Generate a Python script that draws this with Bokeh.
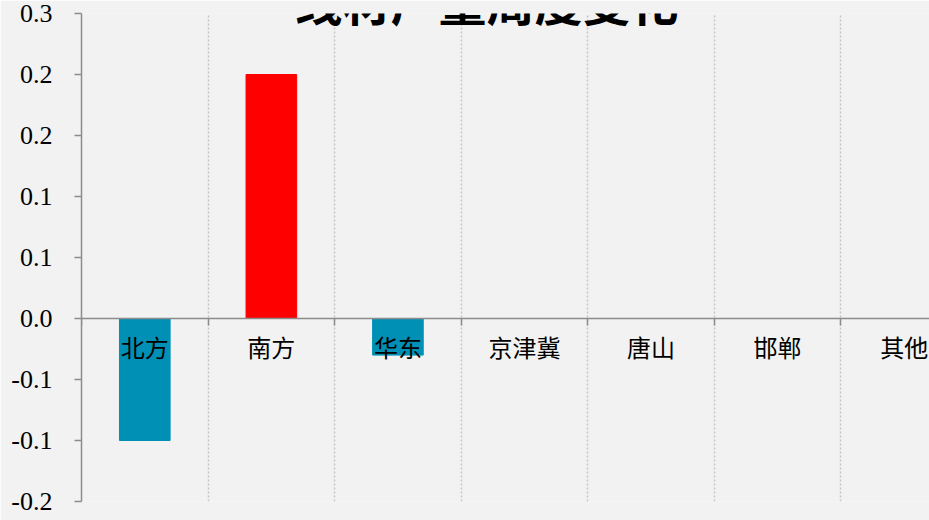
from bokeh.plotting import figure
from bokeh.models import Range1d, FixedTicker, LinearAxis, Label, PrintfTickFormatter, Grid
from bokeh.embed import file_html
from bokeh.resources import INLINE

title_text = "线材产量周度变化"
categories = ["北方", "南方", "华东", "京津冀", "唐山", "邯郸", "其他"]
values = [-0.12, 0.24, -0.036, 0.0, 0.0, 0.0, 0.0]
bar_colors = ["#0090B5", "#FF0000", "#0090B5", "#0090B5", "#0090B5", "#0090B5", "#0090B5"]
y_ticks = [-0.18, -0.12, -0.06, 0.0, 0.06, 0.12, 0.18, 0.24, 0.3]

x_centers = [i + 0.5 for i in range(len(categories))]
x_bounds = list(range(len(categories) + 1))

AXIS_COLOR = "#8c8c8c"
BG = "#f2f2f2"

p = figure(width=929, height=520, output_backend="svg", toolbar_location=None,
           x_range=Range1d(0, 6.70), y_range=Range1d(-0.18, 0.3),
           x_axis_location=None, y_axis_location="left",
           min_border_left=81, min_border_right=0, min_border_top=13, min_border_bottom=19)
p.background_fill_color = BG
p.border_fill_color = BG
p.outline_line_color = None
p.xgrid.visible = False
p.ygrid.visible = False

p.add_layout(Grid(dimension=0, ticker=FixedTicker(ticks=x_bounds[1:]),
                  grid_line_color="#c4c4c4", grid_line_dash="2 2", grid_line_width=1.5))

p.vbar(x=x_centers, top=values, bottom=0, width=0.4, color=bar_colors)

yax = p.yaxis[0]
yax.ticker = FixedTicker(ticks=y_ticks)
yax.formatter = PrintfTickFormatter(format="%.1f")
yax.axis_line_color = AXIS_COLOR
yax.axis_line_width = 1.5
yax.major_tick_line_color = AXIS_COLOR
yax.major_tick_line_width = 1.5
yax.major_tick_in = 0
yax.major_tick_out = 7
yax.minor_tick_line_color = None
yax.major_label_standoff = 22
yax.major_label_text_font = "Liberation Serif"
yax.major_label_text_font_size = "26px"
yax.major_label_text_color = "black"

ax_ticks = LinearAxis(ticker=FixedTicker(ticks=x_bounds), fixed_location=0,
                      axis_line_color=AXIS_COLOR, axis_line_width=1.5,
                      major_tick_line_color=AXIS_COLOR, major_tick_line_width=1.5,
                      major_tick_in=0, major_tick_out=7, minor_tick_line_color=None,
                      major_label_text_color=None)
p.add_layout(ax_ticks, "below")

ax_labels = LinearAxis(ticker=FixedTicker(ticks=x_centers), fixed_location=0,
                       major_label_overrides={xc: c for xc, c in zip(x_centers, categories)},
                       axis_line_color=None, major_tick_line_color=None, minor_tick_line_color=None,
                       major_tick_in=0, major_tick_out=0, major_label_standoff=10,
                       major_label_text_font="Noto Sans CJK SC", major_label_text_font_size="24px",
                       major_label_text_color="black")
p.add_layout(ax_labels, "below")

p.add_layout(Label(x=3.2, y=0.2793, text=title_text, text_align="center", text_baseline="bottom",
                   text_font="Noto Sans CJK SC", text_font_size="48px", text_font_style="bold",
                   text_color="black"))

open("out.html", "w").write(file_html(p, INLINE))
